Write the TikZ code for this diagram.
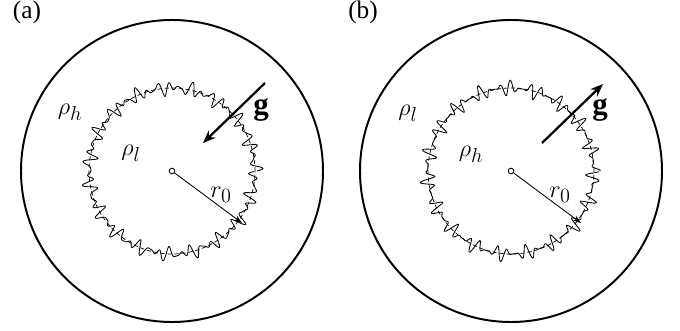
\documentclass[tikz,border=0pt]{standalone}
\usepackage{fontspec}
\setmainfont{Liberation Serif}
\usetikzlibrary{arrows.meta}

\begin{document}
\begin{tikzpicture}[font=\fontsize{19}{22}\selectfont,
        declare function={wA(\t)=2.075 + 0.1*sin(mod(48*\t,6.28319) r) + 0.06*sin(mod(29*\t+0.7,6.28319) r) + 0.05*sin(mod(67*\t+0.2,6.28319) r);
                          wB(\t)=2.075 + 0.1*sin(mod(52*\t+1.2,6.28319) r) + 0.06*sin(mod(33*\t+0.3,6.28319) r) + 0.05*sin(mod(71*\t+2.1,6.28319) r);}]
        \useasboundingbox (0,0) rectangle (17,8.25);
        % Panel (a): light fluid inside, gravity pointing inward
        \coordinate (cA) at (4.3,3.975);
        \draw[line width=1.4pt] (cA) circle (3.775);
        \draw[line width=0.5pt, dash pattern=on 3pt off 2pt] (cA) circle (2.075);
        \draw[line width=0.6pt, shift={(cA)}] plot[domain=0:6.2832, samples=720, smooth, variable=\t]
            ({wA(\t)*cos(\t r)}, {wA(\t)*sin(\t r)});
        \node[circle, draw, line width=0.6pt, inner sep=0pt, minimum size=4pt] (oA) at (cA) {};
        \coordinate (rA) at (6.05,2.675);
        \draw[-{Stealth[length=6pt,width=4pt]}, line width=0.6pt] (oA) -- (rA);
        \node (rlabA) at (5.525,3.375) {$r_0$};
        \coordinate (gA1) at (6.625,6.175);
        \coordinate (gA2) at (5.075,4.675);
        \draw[-{Stealth[length=9pt,width=7pt]}, line width=1.6pt] (gA1) -- (gA2);
        \node[font=\fontsize{22}{24}\selectfont] (gA) at (6.525,5.5) {$\mathbf{g}$};
        \node (rhoHA) at (1.75,5.45) {$\rho_h$};
        \node (rhoLA) at (3.275,4.425) {$\rho_l$};
        \node[font=\fontsize{18}{20}\selectfont] (labA) at (0.675,7.95) {(a)};
        % Panel (b): heavy fluid inside, gravity pointing outward
        \coordinate (cB) at (12.775,3.975);
        \draw[line width=1.4pt] (cB) circle (3.775);
        \draw[line width=0.5pt, dash pattern=on 3pt off 2pt] (cB) circle (2.075);
        \draw[line width=0.6pt, shift={(cB)}] plot[domain=0:6.2832, samples=720, smooth, variable=\t]
            ({wB(\t)*cos(\t r)}, {wB(\t)*sin(\t r)});
        \node[circle, draw, line width=0.6pt, inner sep=0pt, minimum size=4pt] (oB) at (cB) {};
        \coordinate (rB) at (14.525,2.675);
        \draw[-{Stealth[length=6pt,width=4pt]}, line width=0.6pt] (oB) -- (rB);
        \node (rlabB) at (14.0,3.375) {$r_0$};
        \coordinate (gB1) at (13.55,4.675);
        \coordinate (gB2) at (15.075,6.15);
        \draw[-{Stealth[length=9pt,width=7pt]}, line width=1.6pt] (gB1) -- (gB2);
        \node[font=\fontsize{22}{24}\selectfont] (gB) at (15.0,5.5) {$\mathbf{g}$};
        \node (rhoLB) at (10.2,5.425) {$\rho_l$};
        \node (rhoHB) at (11.775,4.4) {$\rho_h$};
        \node[font=\fontsize{18}{20}\selectfont] (labB) at (9.075,7.95) {(b)};
\end{tikzpicture}
\end{document}
